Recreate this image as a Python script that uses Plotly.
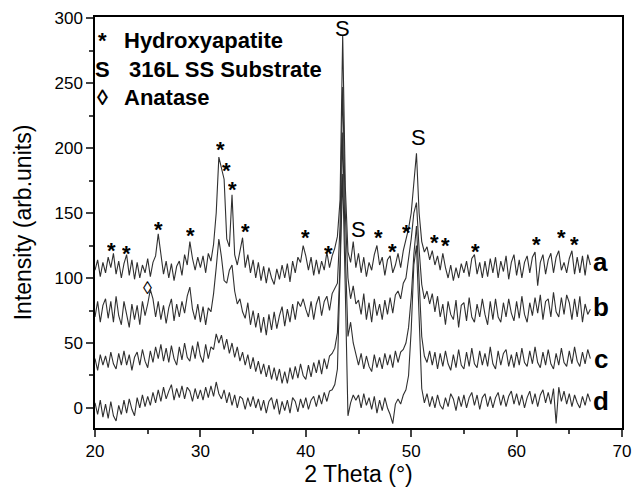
import numpy as np
import plotly.graph_objects as go

# 2-theta grid (degrees), 20 -> 67 in 0.25 steps
two_theta = [20 + 0.25 * i for i in range(189)]

# Intensity (arb. units), offset traces a (top) .. d (bottom)
trace_a = [
    106, 114, 101, 112,  104, 116, 108, 119,  103, 113, 100, 111,  118, 102, 114, 99,
    112, 100, 110, 104,  115, 101, 112, 117,  134, 116, 103, 113,  100, 111, 98, 109,
    113, 102, 118, 110,  128, 115, 106, 116,  108, 117, 104, 119,  113, 126, 150, 193,
    184, 176, 130, 124,  164, 118, 110, 121,  131, 108, 118, 104,  114, 100, 112, 98,
    109, 96, 108, 100,  95, 107, 99, 110,  100, 111, 97, 113,  104, 116, 112, 125,
    117, 106, 116, 102,  114, 103, 113, 106,  120, 108, 117, 123,  132, 160, 287, 170,
    120, 112, 128, 108,  119, 104, 116, 101,  112, 106, 118, 125,  110, 116, 102, 114,
    117, 104, 110, 119,  108, 121, 129, 138,  150, 176, 196, 150,  128, 120, 124, 114,
    121, 110, 117, 106,  119, 108, 100, 110,  98, 108, 100, 111,  104, 113, 101, 115,
    118, 103, 112, 100,  113, 101, 115, 104,  116, 100, 113, 105,  117, 99, 112, 118,
    102, 114, 100, 112,  117, 104, 116, 120,  94, 112, 118, 103,  114, 119, 104, 116,
    121, 106, 112, 104,  115, 121, 103, 116,  104, 117, 102, 118,  110,
]
trace_b = [
    70, 82, 66, 79,  84, 69, 82, 66,  86, 71, 64, 82,  72, 62, 80, 68,
    79, 64, 82, 71,  80, 91, 84, 70,  82, 68, 79, 65,  77, 84, 67, 80,
    70, 82, 73, 86,  93, 76, 68, 80,  66, 78, 64, 77,  74, 88, 108, 130,
    116, 98, 96, 106,  110, 90, 80, 84,  74, 69, 81, 64,  75, 62, 73, 58,
    70, 56, 72, 60,  74, 61, 71, 78,  63, 76, 66, 80,  68, 82, 78, 84,
    76, 70, 82, 68,  80, 86, 71, 82,  86, 75, 88, 92,  96, 140, 247, 150,
    100, 84, 94, 80,  83, 72, 88, 68,  81, 66, 84, 71,  80, 68, 83, 72,
    85, 73, 87, 90,  84, 96, 100, 115,  130, 150, 158, 122,  95, 84, 90, 80,
    88, 74, 86, 70,  80, 64, 82, 72,  68, 83, 62, 79,  81, 67, 85, 70,
    66, 80, 70, 84,  72, 64, 82, 68,  84, 70, 66, 81,  70, 84, 73, 67,
    82, 69, 86, 72,  66, 81, 71, 85,  73, 87, 68, 82,  84, 70, 89, 74,
    70, 85, 72, 87,  81, 68, 84, 70,  86, 66, 80, 72,  76,
]
trace_c = [
    38, 29, 41, 33,  40, 31, 43, 34,  30, 42, 33, 44,  33, 41, 29, 39,
    43, 33, 45, 36,  31, 44, 35, 47,  38, 49, 36, 46,  35, 48, 38, 33,
    47, 37, 50, 39,  36, 48, 38, 51,  40, 35, 49, 38,  47, 45, 57, 50,
    56, 45, 53, 42,  50, 39, 47, 36,  43, 33, 41, 30,  39, 28, 36, 26,
    34, 24, 33, 22,  31, 21, 30, 19,  28, 19, 31, 22,  32, 23, 34, 25,
    22, 33, 24, 35,  27, 37, 26, 38,  30, 40, 42, 46,  58, 110, 212, 120,
    55, 66, 50, 42,  33, 42, 30, 40,  32, 28, 41, 31,  39, 30, 42, 33,
    41, 31, 44, 35,  43, 45, 50, 62,  85, 118, 140, 98,  55, 40, 35, 44,
    33, 43, 30, 42,  32, 44, 34, 29,  41, 31, 45, 33,  30, 43, 32, 46,
    34, 31, 44, 33,  42, 32, 47, 34,  30, 44, 33, 42,  45, 32, 41, 31,
    43, 33, 46, 35,  32, 44, 34, 47,  35, 31, 43, 33,  45, 34, 30, 42,
    33, 46, 35, 32,  44, 34, 47, 36,  32, 43, 34, 45,  38,
]
trace_d = [
    4, -5, 6, -7,  3, -8, 5, -6,  -10, 2, -5, 6,  -4, 7, -1, -6,
    8, 0, 10, 1,  9, 2, 12, 4,  14, 5, 16, 7,  13, 18, 6, 15,
    8, 17, 7, 16,  13, 5, 15, 7,  14, 6, 16, 8,  17, 9, 20, 11,
    7, 14, 4, 12,  2, 10, 0, 9,  7, -1, 8, 1,  9, 0, 7, -2,
    6, -4, 5, 8,  -1, 7, -5, 5,  -2, 6, -4, 8,  5, -3, 7, 0,
    8, -1, 6, 9,  1, 10, 3, 12,  5, 13, 14, 18,  30, 100, 180, 90,
    -6, 4, 10, 6,  10, 0, 11, 2,  8, -1, 9, -4,  6, -2, 8, 0,
    -5, -12, 3, 7,  3, 10, 14, 25,  60, 110, 125, 70,  15, 4, 11, 1,
    9, 0, 10, 2,  -1, 8, 1, 11,  7, -2, 9, 1,  10, 0, 8, 12,
    2, 10, -1, 8,  11, 1, 9, 0,  8, 12, 2, 10,  1, 9, 13, 3,
    11, 2, 10, 0,  8, 13, 3, 11,  1, 10, 14, 4,  12, 3, 15, -12,
    16, 5, 13, 3,  11, 1, 10, 4,  0, 9, 2, 11,  5,
]

# Phase markers (2theta, intensity) for labels
hap_x = [21.6, 23.0, 26.0, 29.1, 31.9, 32.5, 33.0, 34.3, 40.0, 42.2, 46.9, 48.2, 49.6,
         52.2, 53.3, 56.1, 61.9, 64.3, 65.5]
hap_y = [123, 121, 139, 135, 201, 185, 170, 138, 133, 121, 133, 122, 137,
         129, 127, 122, 128, 133, 128]
sub_x = [43.5, 45.0, 50.7]
sub_y = [292, 137, 208]
ana_x = [25.0]
ana_y = [92]

trace_names = ["a", "b", "c", "d"]
trace_label_y = [112, 78, 38, 5]

FONT = "Liberation Sans, Arial, sans-serif"
fig = go.Figure()
for name, vals in zip(trace_names, [trace_a, trace_b, trace_c, trace_d]):
    fig.add_trace(go.Scatter(x=two_theta, y=vals, mode="lines", name=name,
                             line=dict(color="#303030", width=1.1), showlegend=False))

ann = []
for x, y in zip(hap_x, hap_y):
    ann.append(dict(x=x, y=y, text="<b>*</b>", showarrow=False, height=16,
                    font=dict(size=22, color="black", family=FONT), yshift=-2))
for x, y in zip(sub_x, sub_y):
    ann.append(dict(x=x, y=y, text="S", showarrow=False, font=dict(size=22, color="black", family=FONT)))
for x, y in zip(ana_x, ana_y):
    ann.append(dict(x=x, y=y, text="◊", showarrow=False, font=dict(size=18, color="black", family=FONT)))
for name, y in zip(trace_names, trace_label_y):
    ann.append(dict(x=68.0, y=y, text="<b>" + name + "</b>", showarrow=False, font=dict(size=26, color="black", family=FONT)))

legend_items = [("*", "Hydroxyapatite", 40, 122), ("S", "316L SS Substrate", 70, 127), ("◊", "Anatase", 98, 122)]
for sym, txt, py, px in legend_items:
    yy = 1 - (py - 17) / (428 - 17)
    ann.append(dict(xref="paper", yref="paper", x=(102 - 95) / 527, y=yy, text="<b>" + sym + "</b>",
                    showarrow=False, xanchor="center", yanchor="middle",
                    font=dict(size=22, color="black", family=FONT)))
    ann.append(dict(xref="paper", yref="paper", x=(px - 95) / 527, y=yy, text="<b>" + txt + "</b>",
                    showarrow=False, xanchor="left", yanchor="middle",
                    font=dict(size=22, color="black", family=FONT)))

fig.update_layout(
    width=633, height=497,
    margin=dict(l=95, r=11, t=17, b=69, autoexpand=False),
    plot_bgcolor="white", paper_bgcolor="white",
    font=dict(family=FONT, color="black"),
    annotations=ann,
    xaxis=dict(range=[20, 70], tickvals=[20, 30, 40, 50, 60, 70], ticks="outside", ticklen=7, tickwidth=1.5,
               minor=dict(tickvals=[25, 35, 45, 55, 65], ticks="outside", ticklen=4, tickwidth=1.5),
               showline=True, linewidth=1.5, linecolor="black", mirror=True, showgrid=False, zeroline=False,
               automargin=False,
               tickfont=dict(size=17), title=dict(text="2 Theta (°)", font=dict(size=23), standoff=4)),
    yaxis=dict(range=[-15.4, 300.8], tickvals=[0, 50, 100, 150, 200, 250, 300], ticks="outside", ticklen=7, tickwidth=1.5,
               minor=dict(tickvals=[25, 75, 125, 175, 225, 275], ticks="outside", ticklen=4, tickwidth=1.5),
               showline=True, linewidth=1.5, linecolor="black", mirror=True, showgrid=False, zeroline=False,
               automargin=False,
               tickfont=dict(size=17), title=dict(text="Intensity (arb.units)", font=dict(size=23), standoff=16)),
)

fig.write_html("out.html", config={"displayModeBar": False},
               post_script="document.body.style.margin='0';")
